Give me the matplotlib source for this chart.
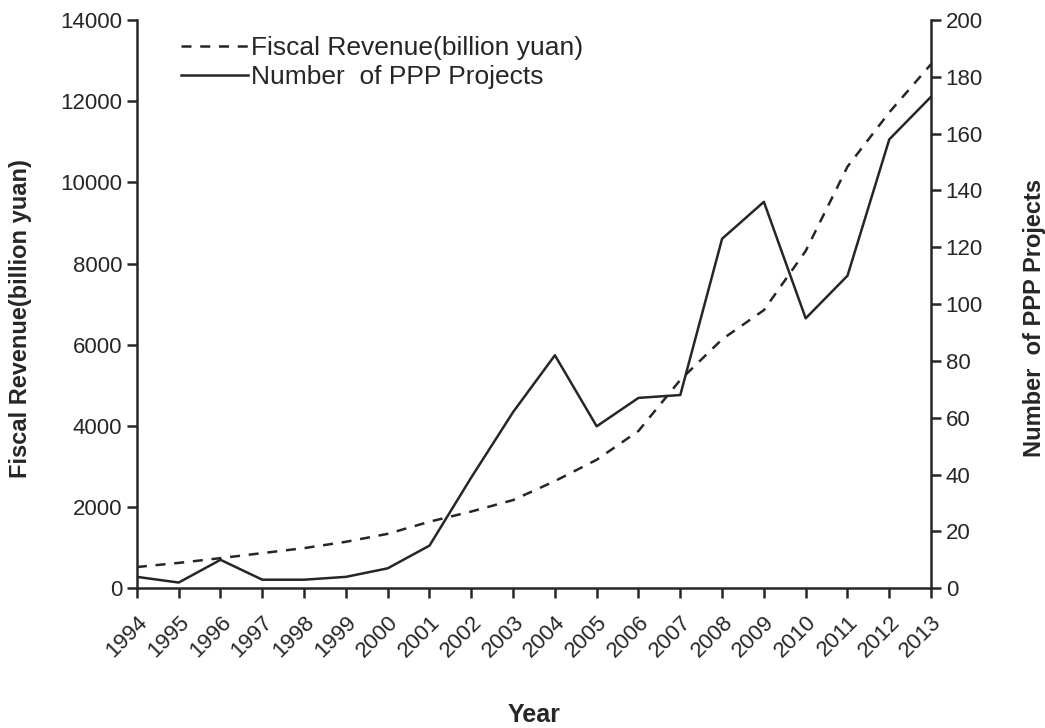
import matplotlib
matplotlib.use("Agg")
import matplotlib.pyplot as plt

plt.rcParams['font.family'] = ['Liberation Sans', 'DejaVu Sans']

years = [1994, 1995, 1996, 1997, 1998, 1999, 2000, 2001, 2002, 2003,
         2004, 2005, 2006, 2007, 2008, 2009, 2010, 2011, 2012, 2013]
fiscal_revenue = [522, 624, 741, 865, 988, 1144, 1340, 1639, 1890, 2172,
                  2640, 3165, 3876, 5132, 6133, 6852, 8310, 10387, 11725, 12914]
ppp_projects = [4, 2, 10, 3, 3, 4, 7, 15, 39, 62,
                82, 57, 67, 68, 123, 136, 95, 110, 158, 173]
left_ticks = [0, 2000, 4000, 6000, 8000, 10000, 12000, 14000]
right_ticks = [0, 20, 40, 60, 80, 100, 120, 140, 160, 180, 200]

ink = '#262626'
fig = plt.figure(figsize=(10.45, 7.28), dpi=100)
ax = fig.add_axes([0.131, 0.192, 0.76, 0.7805])
ax2 = ax.twinx()

l1, = ax.plot(years, fiscal_revenue, color=ink, lw=1.8, linestyle=(0, (4, 3.5)),
              label='Fiscal Revenue(billion yuan)')
l2, = ax2.plot(years, ppp_projects, color=ink, lw=1.8,
               label='Number  of PPP Projects')

ax.set_xlim(1994, 2013)
ax.set_ylim(0, 14000)
ax2.set_ylim(0, 200)
ax.set_yticks(left_ticks)
ax2.set_yticks(right_ticks)
ax.set_xticks(years)
ax.set_xticklabels([str(y) for y in years], rotation=45, ha='right',
                   rotation_mode='anchor')

for a in (ax, ax2):
    a.spines['top'].set_visible(False)
    for s in a.spines.values():
        s.set_color(ink)
        s.set_linewidth(1.8)
    a.tick_params(colors=ink, labelsize=16, width=1.8, length=7, direction='out')
ax.spines['right'].set_visible(False)
ax2.spines['left'].set_visible(False)
ax2.spines['bottom'].set_visible(False)
ax.tick_params(axis='x', pad=10)

ax.set_xlabel('Year', fontsize=18, fontweight='bold', color=ink, labelpad=30)
ax.set_ylabel('Fiscal Revenue(billion yuan)', fontsize=17, fontweight='bold',
              color=ink)
ax2.set_ylabel('Number  of PPP Projects', fontsize=17, fontweight='bold',
               color=ink)
ax.yaxis.set_label_coords(-0.132, 0.475)
ax2.yaxis.set_label_coords(1.116, 0.475)

leg = ax.legend(handles=[l1, l2], loc='upper left', bbox_to_anchor=(0.035, 1.0),
                frameon=False, fontsize=19, handlelength=2.55, handletextpad=0.12,
                labelspacing=0.2, borderaxespad=0.2)
for t in leg.get_texts():
    t.set_color(ink)

fig.savefig('out.png', dpi=100)
